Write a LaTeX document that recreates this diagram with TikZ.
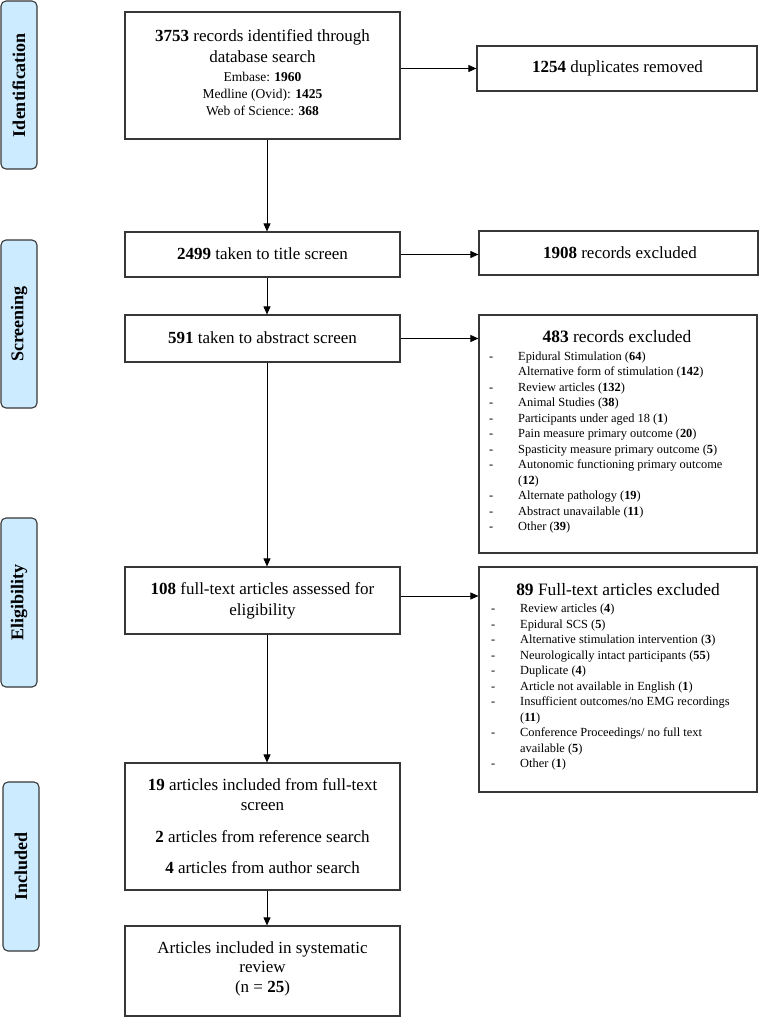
\documentclass[tikz,border=0pt]{standalone}
\usepackage{fontspec}
\setmainfont{Liberation Serif}
\usetikzlibrary{arrows.meta}
\definecolor{sidefill}{RGB}{205,235,255}
\definecolor{edge}{RGB}{55,55,55}
\tikzset{
  box/.style={draw=edge, line width=1.2pt, inner sep=0pt},
  sidebox/.style={draw=edge, line width=1.1pt, fill=sidefill, rounded corners=5pt, inner sep=0pt,
    minimum height=36pt, font=\fontsize{18}{20}\selectfont\bfseries, rotate=90},
  txt/.style={inner sep=0pt, align=center, font=\fontsize{17}{21}\selectfont},
  arr/.style={line width=0.9pt, draw=black, -{Triangle[length=8pt,width=7pt]}},
  listnode/.style={inner sep=0pt, anchor=base west}
}
\newcommand{\bb}[1]{\textbf{#1}}
\newcommand{\smallline}{\fontsize{13.5}{17}\selectfont}
\begin{document}
\begin{tikzpicture}[x=1pt,y=-1pt]
\path[use as bounding box, fill=white] (0,0) rectangle (760,1018);

% side phase labels
\node[sidebox, minimum width=168pt] (s1) at (19,85) {Identification};
\node[sidebox, minimum width=168pt] (s2) at (19,324) {Screening};
\node[sidebox, minimum width=169pt] (s3) at (19,602.5) {Eligibility};
\node[sidebox, minimum width=169pt] (s4) at (21,866.5) {Included};

% main column boxes
\node[box, minimum width=275pt, minimum height=127pt] (b1) at (262.5,75.5) {};
\node[box, minimum width=275pt, minimum height=45pt] (b2) at (262.5,254.5) {};
\node[box, minimum width=275pt, minimum height=47pt] (b3) at (262.5,338.5) {};
\node[box, minimum width=275pt, minimum height=67pt] (b4) at (262.5,600.5) {};
\node[box, minimum width=275pt, minimum height=127pt] (b5) at (262.5,826.5) {};
\node[box, minimum width=275pt, minimum height=90pt] (b6) at (262.5,971) {};

% right column boxes
\node[box, minimum width=280pt, minimum height=45pt] (r1) at (617,68.5) {};
\node[box, minimum width=279pt, minimum height=44pt] (r2) at (618.5,253) {};
\node[box, minimum width=278pt, minimum height=238pt] (r3) at (618,434) {};
\node[box, minimum width=278pt, minimum height=225pt] (r4) at (618,679.5) {};

% texts of main column
\node[inner sep=0pt, anchor=base] (t1) at (262.5,41) {\fontsize{17}{21}\selectfont
\begin{tabular}[t]{@{}c@{}}
\bb{3753} records identified through\\
database search\\[-2pt]
\smallline Embase: \bb{1960}\\[-4pt]
\smallline Medline (Ovid): \bb{1425}\\[-4pt]
\smallline Web of Science: \bb{368}
\end{tabular}};
\node[txt] (t2) at (262.5,254) {\bb{2499} taken to title screen};
\node[txt] (t3) at (262.5,338) {\bb{591} taken to abstract screen};
\node[txt] (t4) at (262.5,601) {\bb{108} full-text articles assessed for\\ eligibility};
\node[txt, font=\fontsize{17}{20}\selectfont] (t5) at (262.5,826.5) {\bb{19} articles included from full-text\\ screen\\[12pt]
  \bb{2} articles from reference search\\[11pt] \bb{4} articles from author search};
\node[txt, font=\fontsize{17}{19.5}\selectfont] (t6) at (262.5,968.5) {Articles included in systematic\\ review\\ (n = \bb{25})};

% texts of right column
\node[txt] (u1) at (617.5,68.5) {\bb{1254} duplicates removed};
\node[txt] (u2) at (620,253) {\bb{1908} records excluded};
\node[txt, font=\fontsize{17.4}{21}\selectfont] (u3) at (617,337) {\bb{483} records excluded};
\node[txt, font=\fontsize{17.4}{21}\selectfont] (u4) at (618,590) {\bb{89} Full-text articles excluded};

\node[listnode] (l3) at (489,360.5) {\fontsize{12.4}{15.45}\selectfont
\begin{tabular}[t]{@{}p{29pt}@{}l@{}}
- & Epidural Stimulation (\bb{64})\\
  & Alternative form of stimulation (\bb{142})\\
- & Review articles (\bb{132})\\
- & Animal Studies (\bb{38})\\
- & Participants under aged 18 (\bb{1})\\
- & Pain measure primary outcome (\bb{20})\\
- & Spasticity measure primary outcome (\bb{5})\\
- & Autonomic functioning primary outcome\\
  & (\bb{12})\\
- & Alternate pathology (\bb{19})\\
- & Abstract unavailable (\bb{11})\\
- & Other (\bb{39})
\end{tabular}};

\node[listnode] (l4) at (491,612.5) {\fontsize{12.4}{15.5}\selectfont
\begin{tabular}[t]{@{}p{29pt}@{}l@{}}
- & Review articles (\bb{4})\\
- & Epidural SCS (\bb{5})\\
- & Alternative stimulation intervention (\bb{3})\\
- & Neurologically intact participants (\bb{55})\\
- & Duplicate (\bb{4})\\
- & Article not available in English (\bb{1})\\
- & Insufficient outcomes/no EMG recordings\\
  & (\bb{11})\\
- & Conference Proceedings/ no full text\\
  & available (\bb{5})\\
- & Other (\bb{1})
\end{tabular}};

% vertical connectors
\draw[arr] ([xshift=4.5pt]b1.south) -- ([xshift=4.5pt]b2.north);
\draw[arr] ([xshift=4.5pt]b2.south) -- ([xshift=4.5pt]b3.north);
\draw[arr] ([xshift=4.5pt]b3.south) -- ([xshift=4.5pt]b4.north);
\draw[arr] ([xshift=4.5pt]b4.south) -- ([xshift=4.5pt]b5.north);
\draw[arr] ([xshift=4.5pt]b5.south) -- ([xshift=4.5pt]b6.north);

% horizontal connectors
\coordinate (c4) at ([yshift=4.5pt]b4.east);
\draw[arr] (b1.east |- r1.west) -- (r1.west);
\draw[arr] (b2.east) -- (r2.west |- b2.east);
\draw[arr] (b3.east) -- (r3.west |- b3.east);
\draw[arr] (c4) -- (r4.west |- c4);
\end{tikzpicture}
\end{document}
